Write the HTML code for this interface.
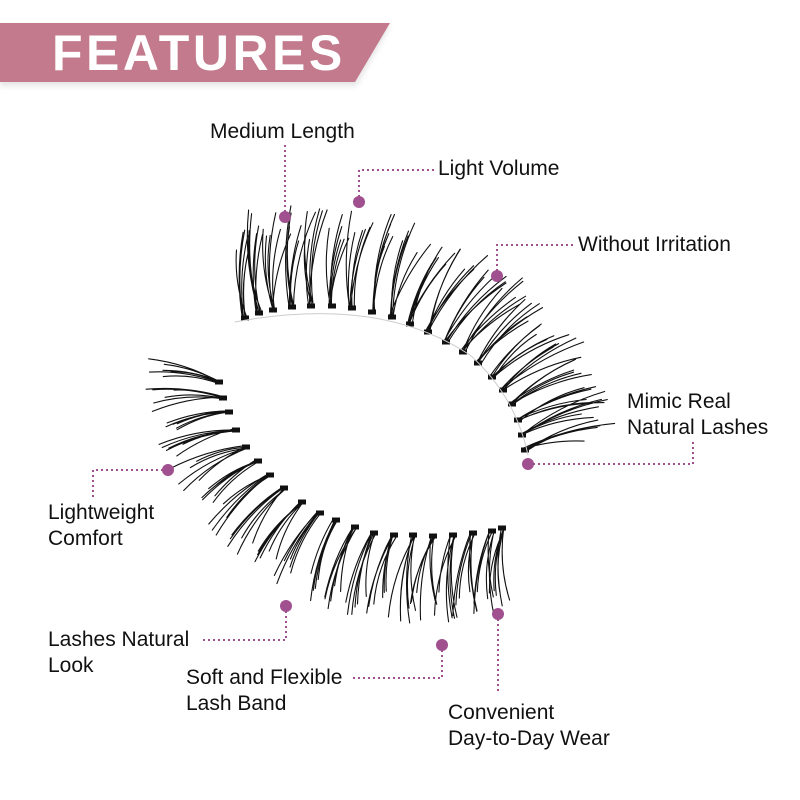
<!DOCTYPE html>
<html><head><meta charset="utf-8"><style>
html,body{margin:0;padding:0;background:#fff;}
#c{position:relative;width:800px;height:800px;overflow:hidden;font-family:"Liberation Sans",Arial,sans-serif;}
.l{position:absolute;font-size:21px;color:#111;line-height:26px;white-space:nowrap;}
</style></head><body><div id="c">
<svg width="800" height="800" style="position:absolute;left:0;top:0">
<defs><filter id="sh" x="-10%" y="-30%" width="120%" height="160%"><feGaussianBlur stdDeviation="3"/></filter></defs>
<polygon points="0,26 390,26 356,86 0,86" fill="#bbb" opacity="0.4" filter="url(#sh)"/>
<polygon points="0,23 390,23 355,82 0,82" fill="#c27a8c"/>
<text x="52" y="70" font-family="Liberation Sans, Arial, sans-serif" font-weight="bold" font-size="50" fill="#fff" letter-spacing="3.5">FEATURES</text>
<g id="lash" stroke="#111" fill="none" stroke-linecap="round"></g>
<g stroke="#a04f8f" stroke-width="2" stroke-dasharray="2,3" fill="none">
<polyline points="285,217 285,142"/>
<polyline points="359,202 359,170 435,170"/>
<polyline points="497,276 497,245 575,245"/>
<polyline points="528,464 693,464 693,440"/>
<polyline points="168,470 93,470 93,497"/>
<polyline points="286,606 286,640 200,640"/>
<polyline points="442,645 442,678 350,678"/>
<polyline points="498,614 498,692"/>
</g>
<g fill="#a04f8f">
<circle cx="285" cy="217" r="6"/><circle cx="359" cy="202" r="6"/><circle cx="497" cy="276" r="6"/>
<circle cx="528" cy="464" r="6"/><circle cx="168" cy="470" r="6"/><circle cx="286" cy="606" r="6"/>
<circle cx="442" cy="645" r="6"/><circle cx="498" cy="614" r="6"/>
</g>
</svg>
<div class="l" style="left:210px;top:119px">Medium Length</div>
<div class="l" style="left:438px;top:156px">Light Volume</div>
<div class="l" style="left:578px;top:232px">Without Irritation</div>
<div class="l" style="left:627px;top:389px">Mimic Real<br>Natural Lashes</div>
<div class="l" style="left:48px;top:500px">Lightweight<br>Comfort</div>
<div class="l" style="left:48px;top:627px">Lashes Natural<br>Look</div>
<div class="l" style="left:186px;top:665px">Soft and Flexible<br>Lash Band</div>
<div class="l" style="left:448px;top:700px">Convenient<br>Day-to-Day Wear</div>
<script>
(function(){
var g=document.getElementById('lash'),s='';
var seed=7;function r(){seed=(seed*9301+49297)%233280;return seed/233280;}
function lerp(a,b,t){return a+(b-a)*t;}
function ang(stops,t){for(var i=0;i<stops.length-1;i++){if(t<=stops[i+1][0]){var u=(t-stops[i][0])/(stops[i+1][0]-stops[i][0]);return lerp(stops[i][1],stops[i+1][1],u);}}return stops[stops.length-1][1];}
function draw(bases,stops,lens,curl){
 var n=bases.length,d='';
 for(var i=0;i<n;i++){var t=i/(n-1),b=bases[i];
  for(var k=0;k<6;k++){
   var a=(ang(stops,t)+(r()-0.5)*22)*Math.PI/180;
   var L=lerp(lens[0],lens[1],t)*(0.7+r()*0.4);
   var ex=b[0]+Math.cos(a)*L,ey=b[1]+Math.sin(a)*L;
   var mx=(b[0]+ex)/2,my=(b[1]+ey)/2;
   var px=-Math.sin(a)*curl*L,py=Math.cos(a)*curl*L;
   var bx=b[0]+(r()-0.5)*6,by=b[1]+(r()-0.5)*3;
   d+='M'+bx.toFixed(1)+' '+by.toFixed(1)+'Q'+(mx+px).toFixed(1)+' '+(my+py).toFixed(1)+' '+ex.toFixed(1)+' '+ey.toFixed(1);
  }
  s+='<rect x="'+(b[0]-4)+'" y="'+(b[1]-2.5)+'" width="8" height="5" fill="#111" stroke="none"/>';
 }
 s+='<path d="'+d+'" stroke-width="1.1"/>';
}
var up=[[245,318],[259,313],[273,310],[292,307],[311,306],[332,306],[352,308],[372,312],[392,317],[410,324],[428,332],[446,342],[463,352],[478,363],[492,377],[503,390],[512,404],[518,420],[522,435],[525,450]];
draw(up,[[0,-90],[0.35,-80],[0.55,-58],[0.75,-35],[1,-12]],[95,85],-0.1);
var lo=[[219,382],[223,398],[229,412],[236,430],[246,447],[258,461],[270,475],[284,488],[302,502],[320,513],[336,520],[355,527],[374,533],[394,535],[413,535],[433,536],[453,535],[473,533],[492,531],[502,528]];
draw(lo,[[0,188],[0.2,155],[0.45,118],[0.7,100],[1,92]],[70,85],0.1);
s+='<path d="M235 322 Q380 295 470 355 Q515 395 528 455" stroke="#ccc" stroke-width="1"/>';
g.innerHTML=s;
})();
</script>
</div></body></html>
